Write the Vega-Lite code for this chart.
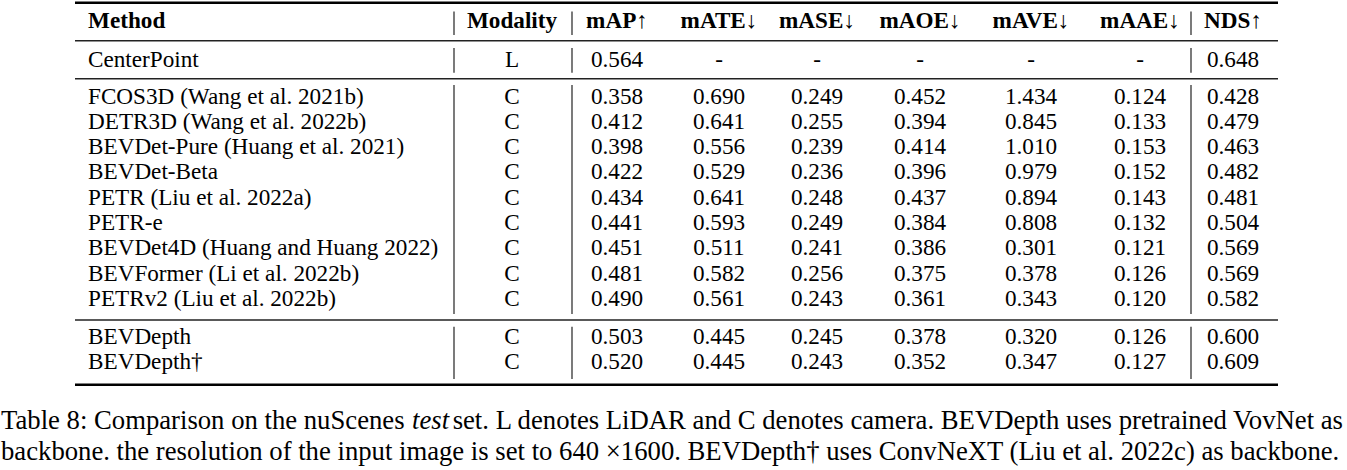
{
  "$schema": "https://vega.github.io/schema/vega-lite/v6.json",
  "width": 1347,
  "height": 470,
  "autosize": {"type": "fit", "contains": "padding"},
  "padding": 0,
  "background": "white",
  "config": {
    "view": {"stroke": null},
    "axis": {"disable": true},
    "text": {"font": "Liberation Serif", "fontSize": 23.2, "baseline": "middle", "color": "#000000"},
    "rule": {"color": "#000000"}
  },
  "datasets": {
    "results": [
      {"Method": "CenterPoint", "Modality": "L", "mAP": 0.564, "mATE": null, "mASE": null, "mAOE": null, "mAVE": null, "mAAE": null, "NDS": 0.648},
      {"Method": "FCOS3D (Wang et al. 2021b)", "Modality": "C", "mAP": 0.358, "mATE": 0.690, "mASE": 0.249, "mAOE": 0.452, "mAVE": 1.434, "mAAE": 0.124, "NDS": 0.428},
      {"Method": "DETR3D (Wang et al. 2022b)", "Modality": "C", "mAP": 0.412, "mATE": 0.641, "mASE": 0.255, "mAOE": 0.394, "mAVE": 0.845, "mAAE": 0.133, "NDS": 0.479},
      {"Method": "BEVDet-Pure (Huang et al. 2021)", "Modality": "C", "mAP": 0.398, "mATE": 0.556, "mASE": 0.239, "mAOE": 0.414, "mAVE": 1.010, "mAAE": 0.153, "NDS": 0.463},
      {"Method": "BEVDet-Beta", "Modality": "C", "mAP": 0.422, "mATE": 0.529, "mASE": 0.236, "mAOE": 0.396, "mAVE": 0.979, "mAAE": 0.152, "NDS": 0.482},
      {"Method": "PETR (Liu et al. 2022a)", "Modality": "C", "mAP": 0.434, "mATE": 0.641, "mASE": 0.248, "mAOE": 0.437, "mAVE": 0.894, "mAAE": 0.143, "NDS": 0.481},
      {"Method": "PETR-e", "Modality": "C", "mAP": 0.441, "mATE": 0.593, "mASE": 0.249, "mAOE": 0.384, "mAVE": 0.808, "mAAE": 0.132, "NDS": 0.504},
      {"Method": "BEVDet4D (Huang and Huang 2022)", "Modality": "C", "mAP": 0.451, "mATE": 0.511, "mASE": 0.241, "mAOE": 0.386, "mAVE": 0.301, "mAAE": 0.121, "NDS": 0.569},
      {"Method": "BEVFormer (Li et al. 2022b)", "Modality": "C", "mAP": 0.481, "mATE": 0.582, "mASE": 0.256, "mAOE": 0.375, "mAVE": 0.378, "mAAE": 0.126, "NDS": 0.569},
      {"Method": "PETRv2 (Liu et al. 2022b)", "Modality": "C", "mAP": 0.490, "mATE": 0.561, "mASE": 0.243, "mAOE": 0.361, "mAVE": 0.343, "mAAE": 0.120, "NDS": 0.582},
      {"Method": "BEVDepth", "Modality": "C", "mAP": 0.503, "mATE": 0.445, "mASE": 0.245, "mAOE": 0.378, "mAVE": 0.320, "mAAE": 0.126, "NDS": 0.600},
      {"Method": "BEVDepth†", "Modality": "C", "mAP": 0.520, "mATE": 0.445, "mASE": 0.243, "mAOE": 0.352, "mAVE": 0.347, "mAAE": 0.127, "NDS": 0.609}
    ],
    "columns": [
      {"label": "Method"}, {"label": "Modality"}, {"label": "mAP↑"}, {"label": "mATE↓"}, {"label": "mASE↓"},
      {"label": "mAOE↓"}, {"label": "mAVE↓"}, {"label": "mAAE↓"}, {"label": "NDS↑"}
    ]
  },
  "layer": [
    {
      "data": {"name": "results"},
      "transform": [
        {"window": [{"op": "row_number", "as": "r"}]},
        {"fold": ["Method", "Modality", "mAP", "mATE", "mASE", "mAOE", "mAVE", "mAAE", "NDS"]},
        {"window": [{"op": "row_number", "as": "c"}], "groupby": ["r"]}
      ],
      "encoding": {
        "x": {"field": "c", "type": "quantitative", "axis": null,
          "scale": {"type": "linear", "zero": false, "nice": false, "domain": [0, 0.5, 1, 1.5, 2, 2.5, 3, 4, 5, 6, 7, 8, 8.5, 9, 9.5, 10], "range": [1, 75, 88, 454, 512, 572, 617, 719, 817, 920, 1031, 1140, 1191, 1233, 1278, 1343]}},
        "y": {"field": "r", "type": "quantitative", "axis": null,
          "scale": {"type": "linear", "zero": false, "nice": false, "domain": [-0.5, -0.3, 0, 0.35, 0.5, 0.65, 1, 1.35, 1.5, 1.65, 2, 3, 4, 5, 6, 7, 8, 9, 10, 10.35, 10.5, 10.65, 11, 12, 12.35, 12.5, 13, 14], "range": [2.7, 11.5, 20.5, 35, 40.7, 48, 59.5, 72.7, 78.7, 85, 97, 122, 147, 172.3, 197.5, 222.7, 248, 273.5, 299, 314, 320, 326.7, 337, 362.3, 379, 384.7, 421, 452]}}
      },
      "layer": [
        {"transform": [{"filter": "datum.key === 'Method'"}], "mark": {"type": "text", "align": "left", "font": "Liberation Serif"}, "encoding": {"text": {"field": "value", "type": "nominal"}}},
        {"transform": [{"filter": "datum.key === 'Modality'"}], "mark": {"type": "text", "align": "center", "font": "Liberation Serif"}, "encoding": {"text": {"field": "value", "type": "nominal"}}},
        {"transform": [{"filter": "datum.key !== 'Method' && datum.key !== 'Modality' && isValid(datum.value)"}], "mark": {"type": "text", "align": "center", "font": "Liberation Serif"}, "encoding": {"text": {"field": "value", "type": "quantitative", "format": ".3f"}}},
        {"transform": [{"filter": "datum.key !== 'Method' && datum.key !== 'Modality' && !isValid(datum.value)"}], "mark": {"type": "text", "align": "center", "font": "Liberation Serif"}, "encoding": {"text": {"value": "-"}}}
      ]
    },
    {
      "data": {"name": "columns"},
      "transform": [{"window": [{"op": "row_number", "as": "c"}]}],
      "encoding": {
        "x": {"field": "c", "type": "quantitative", "axis": null,
          "scale": {"type": "linear", "zero": false, "nice": false, "domain": [0, 0.5, 1, 1.5, 2, 2.5, 3, 4, 5, 6, 7, 8, 8.5, 9, 9.5, 10], "range": [1, 75, 88, 454, 512, 572, 617, 719, 817, 920, 1031, 1140, 1191, 1233, 1278, 1343]}},
        "y": {"datum": 0, "type": "quantitative", "axis": null,
          "scale": {"type": "linear", "zero": false, "nice": false, "domain": [-0.5, -0.3, 0, 0.35, 0.5, 0.65, 1, 1.35, 1.5, 1.65, 2, 3, 4, 5, 6, 7, 8, 9, 10, 10.35, 10.5, 10.65, 11, 12, 12.35, 12.5, 13, 14], "range": [2.7, 11.5, 20.5, 35, 40.7, 48, 59.5, 72.7, 78.7, 85, 97, 122, 147, 172.3, 197.5, 222.7, 248, 273.5, 299, 314, 320, 326.7, 337, 362.3, 379, 384.7, 421, 452]}},
        "text": {"field": "label", "type": "nominal"}
      },
      "layer": [
        {"transform": [{"filter": "datum.c === 1"}], "mark": {"type": "text", "align": "left", "font": "Liberation Serif", "fontWeight": "bold"}},
        {"transform": [{"filter": "datum.c > 1"}], "mark": {"type": "text", "align": "center", "font": "Liberation Serif", "fontWeight": "bold"}}
      ]
    },
    {
      "data": {"values": [{}]},
      "layer": [
        {"mark": {"type": "rule", "strokeWidth": 2.6}, "encoding": {"x": {"datum": 0.5, "type": "quantitative"}, "x2": {"datum": 9.5}, "y": {"datum": -0.5, "type": "quantitative"}}},
        {"mark": {"type": "rule", "strokeWidth": 1.4, "color": "#222222"}, "encoding": {"x": {"datum": 0.5, "type": "quantitative"}, "x2": {"datum": 9.5}, "y": {"datum": 0.5, "type": "quantitative"}}},
        {"mark": {"type": "rule", "strokeWidth": 1.4, "color": "#222222"}, "encoding": {"x": {"datum": 0.5, "type": "quantitative"}, "x2": {"datum": 9.5}, "y": {"datum": 1.5, "type": "quantitative"}}},
        {"mark": {"type": "rule", "strokeWidth": 1.4, "color": "#222222"}, "encoding": {"x": {"datum": 0.5, "type": "quantitative"}, "x2": {"datum": 9.5}, "y": {"datum": 10.5, "type": "quantitative"}}},
        {"mark": {"type": "rule", "strokeWidth": 2.6}, "encoding": {"x": {"datum": 0.5, "type": "quantitative"}, "x2": {"datum": 9.5}, "y": {"datum": 12.5, "type": "quantitative"}}},

        {"mark": {"type": "rule", "strokeWidth": 1.2, "color": "#222222"}, "encoding": {"x": {"datum": 1.5, "type": "quantitative"}, "y": {"datum": -0.3, "type": "quantitative"}, "y2": {"datum": 0.35}}},
        {"mark": {"type": "rule", "strokeWidth": 1.2, "color": "#222222"}, "encoding": {"x": {"datum": 2.5, "type": "quantitative"}, "y": {"datum": -0.3, "type": "quantitative"}, "y2": {"datum": 0.35}}},
        {"mark": {"type": "rule", "strokeWidth": 1.2, "color": "#222222"}, "encoding": {"x": {"datum": 8.5, "type": "quantitative"}, "y": {"datum": -0.3, "type": "quantitative"}, "y2": {"datum": 0.35}}},

        {"mark": {"type": "rule", "strokeWidth": 1.2, "color": "#222222"}, "encoding": {"x": {"datum": 1.5, "type": "quantitative"}, "y": {"datum": 0.65, "type": "quantitative"}, "y2": {"datum": 1.35}}},
        {"mark": {"type": "rule", "strokeWidth": 1.2, "color": "#222222"}, "encoding": {"x": {"datum": 2.5, "type": "quantitative"}, "y": {"datum": 0.65, "type": "quantitative"}, "y2": {"datum": 1.35}}},
        {"mark": {"type": "rule", "strokeWidth": 1.2, "color": "#222222"}, "encoding": {"x": {"datum": 8.5, "type": "quantitative"}, "y": {"datum": 0.65, "type": "quantitative"}, "y2": {"datum": 1.35}}},

        {"mark": {"type": "rule", "strokeWidth": 1.2, "color": "#222222"}, "encoding": {"x": {"datum": 1.5, "type": "quantitative"}, "y": {"datum": 1.65, "type": "quantitative"}, "y2": {"datum": 10.35}}},
        {"mark": {"type": "rule", "strokeWidth": 1.2, "color": "#222222"}, "encoding": {"x": {"datum": 2.5, "type": "quantitative"}, "y": {"datum": 1.65, "type": "quantitative"}, "y2": {"datum": 10.35}}},
        {"mark": {"type": "rule", "strokeWidth": 1.2, "color": "#222222"}, "encoding": {"x": {"datum": 8.5, "type": "quantitative"}, "y": {"datum": 1.65, "type": "quantitative"}, "y2": {"datum": 10.35}}},

        {"mark": {"type": "rule", "strokeWidth": 1.2, "color": "#222222"}, "encoding": {"x": {"datum": 1.5, "type": "quantitative"}, "y": {"datum": 10.65, "type": "quantitative"}, "y2": {"datum": 12.35}}},
        {"mark": {"type": "rule", "strokeWidth": 1.2, "color": "#222222"}, "encoding": {"x": {"datum": 2.5, "type": "quantitative"}, "y": {"datum": 10.65, "type": "quantitative"}, "y2": {"datum": 12.35}}},
        {"mark": {"type": "rule", "strokeWidth": 1.2, "color": "#222222"}, "encoding": {"x": {"datum": 8.5, "type": "quantitative"}, "y": {"datum": 10.65, "type": "quantitative"}, "y2": {"datum": 12.35}}},

        {"mark": {"type": "text", "align": "left", "font": "Liberation Serif", "fontSize": 26.7}, "encoding": {"x": {"datum": 0, "type": "quantitative"}, "y": {"datum": 13, "type": "quantitative"}, "text": {"value": "Table 8: Comparison on the nuScenes"}}},
        {"mark": {"type": "text", "align": "left", "font": "Liberation Serif", "fontSize": 26.7, "fontStyle": "italic"}, "encoding": {"x": {"datum": 1.4426, "type": "quantitative"}, "y": {"datum": 13, "type": "quantitative"}, "text": {"value": "test"}}},
        {"mark": {"type": "text", "align": "right", "font": "Liberation Serif", "fontSize": 26.7}, "encoding": {"x": {"datum": 10, "type": "quantitative"}, "y": {"datum": 13, "type": "quantitative"}, "text": {"value": "set. L denotes LiDAR and C denotes camera. BEVDepth uses pretrained VovNet as"}}},
        {"mark": {"type": "text", "align": "left", "font": "Liberation Serif", "fontSize": 26.7}, "encoding": {"x": {"datum": 0, "type": "quantitative"}, "y": {"datum": 14, "type": "quantitative"}, "text": {"value": "backbone. the resolution of the input image is set to 640 ×1600. BEVDepth† uses ConvNeXT (Liu et al. 2022c) as backbone."}}}
      ]
    }
  ]
}
